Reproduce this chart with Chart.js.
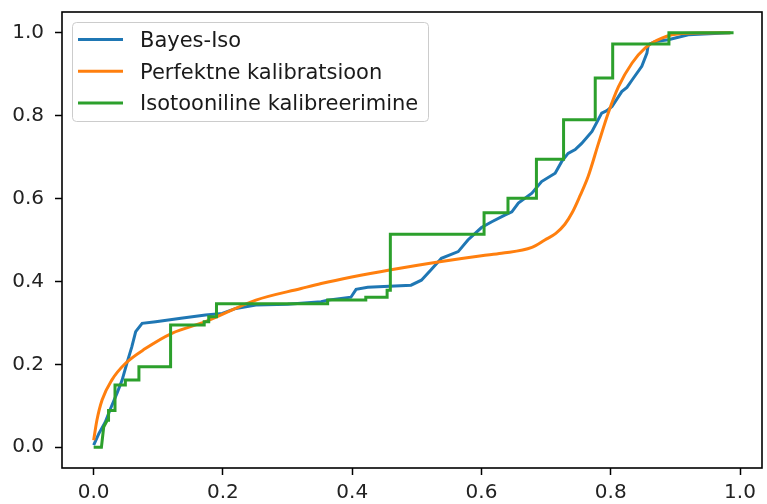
<!DOCTYPE html>
<html>
<head>
<meta charset="utf-8">
<script src="https://cdn.jsdelivr.net/npm/chart.js@4.4.1/dist/chart.umd.min.js"></script>
<style>
  html, body { margin: 0; padding: 0; background: #fff; }
  #wrap { width: 767px; height: 504px; }
</style>
</head>
<body>
<div id="wrap"><canvas id="calib" width="767" height="504"></canvas></div>
<script>
// Bayes-Iso calibration curve
const bayesX = [0, 0.008, 0.018, 0.026, 0.036, 0.044, 0.052, 0.059, 0.065, 0.075, 0.096, 0.135, 0.173, 0.199, 0.22, 0.251, 0.3, 0.352, 0.362, 0.398, 0.406, 0.424, 0.491, 0.507, 0.522, 0.538, 0.564, 0.579, 0.6, 0.616, 0.636, 0.647, 0.657, 0.678, 0.693, 0.714, 0.724, 0.734, 0.745, 0.755, 0.771, 0.786, 0.794, 0.802, 0.817, 0.825, 0.833, 0.848, 0.856, 0.858, 0.869, 0.889, 0.92, 0.985];
const bayesY = [0.005, 0.033, 0.061, 0.093, 0.13, 0.162, 0.206, 0.242, 0.279, 0.299, 0.303, 0.311, 0.319, 0.323, 0.335, 0.343, 0.345, 0.351, 0.355, 0.362, 0.381, 0.386, 0.391, 0.403, 0.428, 0.456, 0.472, 0.5, 0.53, 0.544, 0.56, 0.568, 0.589, 0.613, 0.641, 0.661, 0.689, 0.709, 0.718, 0.733, 0.762, 0.806, 0.812, 0.822, 0.858, 0.868, 0.886, 0.919, 0.951, 0.971, 0.979, 0.983, 0.995, 1.0];

// perfect calibration reference
const perfectX = [0, 0.005, 0.013, 0.028, 0.049, 0.08, 0.121, 0.173, 0.251, 0.321, 0.352, 0.46, 0.538, 0.6, 0.631, 0.678, 0.698, 0.715, 0.729, 0.74, 0.752, 0.765, 0.781, 0.796, 0.812, 0.833, 0.853, 0.879, 0.91, 0.985];
const perfectY = [0.017, 0.065, 0.114, 0.162, 0.202, 0.238, 0.275, 0.303, 0.355, 0.383, 0.395, 0.428, 0.448, 0.462, 0.468, 0.482, 0.5, 0.516, 0.538, 0.565, 0.605, 0.653, 0.733, 0.806, 0.87, 0.927, 0.963, 0.987, 0.998, 1.0];

// isotonic regression step curve
const isoX = [0, 0.012, 0.0155, 0.021, 0.023, 0.023, 0.033, 0.033, 0.049, 0.049, 0.07, 0.07, 0.119, 0.119, 0.171, 0.171, 0.178, 0.178, 0.19, 0.19, 0.362, 0.362, 0.421, 0.421, 0.454, 0.454, 0.459, 0.459, 0.604, 0.604, 0.641, 0.641, 0.685, 0.685, 0.727, 0.727, 0.776, 0.776, 0.803, 0.803, 0.89, 0.89, 0.99];
const isoY = [0, 0, 0.049, 0.065, 0.065, 0.089, 0.089, 0.15, 0.15, 0.162, 0.162, 0.194, 0.194, 0.295, 0.295, 0.303, 0.303, 0.315, 0.315, 0.346, 0.346, 0.355, 0.355, 0.362, 0.362, 0.379, 0.379, 0.514, 0.514, 0.566, 0.566, 0.601, 0.601, 0.695, 0.695, 0.79, 0.79, 0.891, 0.891, 0.973, 0.973, 1.0, 1.0];

const seriesNames = ["Bayes-Iso", "Perfektne kalibratsioon", "Isotooniline kalibreerimine"];
const seriesColors = ["#1f77b4", "#ff7f0e", "#2ca02c"];

const xTicks = [0, 0.2, 0.4, 0.6, 0.8, 1.0];
const yTicks = [0, 0.2, 0.4, 0.6, 0.8, 1.0];

const toPoints = (xs, ys) => xs.map((x, i) => ({ x: x, y: ys[i] }));

const FONT = "'DejaVu Sans', sans-serif";

// axes frame on all four sides
const framePlugin = {
  id: "frame",
  afterDatasetsDraw(chart) {
    const { ctx, chartArea: a } = chart;
    ctx.save();
    ctx.strokeStyle = "#000";
    ctx.lineWidth = 1.6;
    ctx.strokeRect(a.left, a.top, a.right - a.left, a.bottom - a.top);
    ctx.restore();
  }
};

// legend box in the upper left corner
const legendPlugin = {
  id: "boxLegend",
  afterDraw(chart) {
    const { ctx, chartArea: a } = chart;
    const bx = a.left + 10, by = a.top + 10, bw = 356, bh = 99;
    ctx.save();
    ctx.beginPath();
    ctx.roundRect(bx + 0.5, by + 0.5, bw, bh, 4);
    ctx.fillStyle = "rgba(255,255,255,0.8)";
    ctx.fill();
    ctx.strokeStyle = "#cccccc";
    ctx.lineWidth = 1;
    ctx.stroke();
    ctx.font = "21px " + FONT;
    ctx.textBaseline = "middle";
    ctx.textAlign = "left";
    seriesNames.forEach((name, i) => {
      const cy = by + 17.5 + i * 31.7;
      ctx.strokeStyle = seriesColors[i];
      ctx.lineWidth = 3;
      ctx.beginPath();
      ctx.moveTo(bx + 6, cy);
      ctx.lineTo(bx + 51, cy);
      ctx.stroke();
      ctx.fillStyle = "#1a1a1a";
      ctx.fillText(name, bx + 68, cy + 2);
    });
    ctx.restore();
  }
};

const lineSet = (i, xs, ys, order) => ({
  label: seriesNames[i],
  data: toPoints(xs, ys),
  borderColor: seriesColors[i],
  backgroundColor: seriesColors[i],
  borderWidth: 3,
  pointRadius: 0,
  tension: 0,
  fill: false,
  order: order
});

const axisCommon = {
  type: "linear",
  grid: {
    display: true,
    drawOnChartArea: false,
    drawTicks: true,
    tickLength: 7,
    tickColor: "#000",
    tickWidth: 1.5
  },
  border: { display: false },
  ticks: {
    color: "#222",
    font: { family: FONT, size: 20 },
    callback: v => v.toFixed(1)
  }
};

// the reference curve is smooth, so let it bend between points
const perfectSet = lineSet(1, perfectX, perfectY, 2);
perfectSet.cubicInterpolationMode = "monotone";

new Chart(document.getElementById("calib").getContext("2d"), {
  type: "line",
  data: {
    datasets: [
      lineSet(0, bayesX, bayesY, 3),
      perfectSet,
      lineSet(2, isoX, isoY, 1)
    ]
  },
  options: {
    responsive: false,
    animation: false,
    layout: { padding: { top: 12, right: 5, left: 0, bottom: 0 } },
    plugins: {
      legend: { display: false },
      tooltip: { enabled: false }
    },
    scales: {
      x: {
        ...axisCommon,
        min: -0.049,
        max: 1.034,
        ticks: { ...axisCommon.ticks, padding: 6, maxRotation: 0 },
        afterBuildTicks: s => { s.ticks = xTicks.map(v => ({ value: v })); },
        afterFit: s => { s.height = 36; s.paddingLeft = 0; s.paddingRight = 0; }
      },
      y: {
        ...axisCommon,
        min: -0.05,
        max: 1.05,
        ticks: { ...axisCommon.ticks, padding: 11 },
        afterBuildTicks: s => { s.ticks = yTicks.map(v => ({ value: v })); },
        afterFit: s => { s.width = 62; s.paddingTop = 0; s.paddingBottom = 0; }
      }
    }
  },
  plugins: [framePlugin, legendPlugin]
});
</script>
</body>
</html>
